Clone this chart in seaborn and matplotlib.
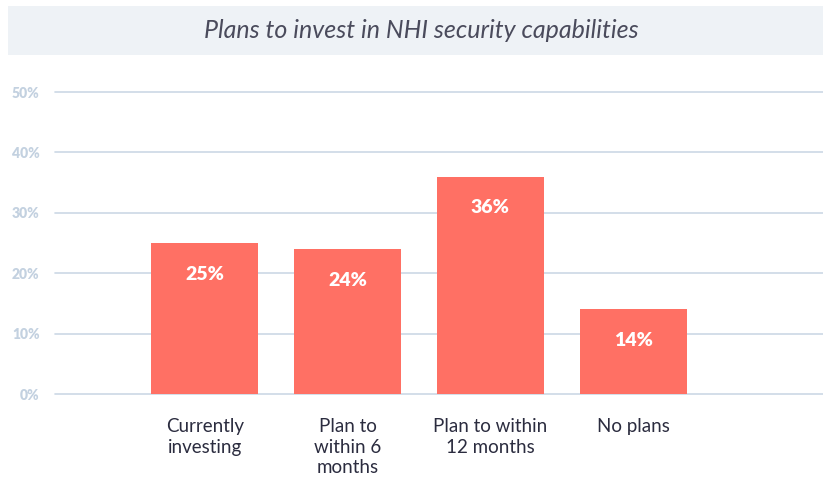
import matplotlib
matplotlib.use("Agg")
import matplotlib.pyplot as plt
import seaborn as sns
import pandas as pd
from matplotlib.patches import Rectangle

categories = ["Currently\ninvesting", "Plan to\nwithin 6\nmonths", "Plan to within\n12 months", "No plans"]
values = [25, 24, 36, 14]
yticks = [0, 10, 20, 30, 40, 50]
title = "Plans to invest in NHI security capabilities"

sns.set_theme(style="white")
plt.rcParams["font.family"] = ["Lato", "DejaVu Sans"]

bar_color = "#FF7064"
grid_color = "#CCD8E5"
tick_color = "#C3D1E0"
label_color = "#2B2C3F"

df = pd.DataFrame({"category": categories, "value": values})

fig = plt.figure(figsize=(8.23, 4.78), dpi=100)
fig.patch.set_facecolor("white")

# Title band
fig.patches.append(Rectangle((8 / 823, 1 - 55 / 478), 1 - 8 / 823, 49 / 478,
                             transform=fig.transFigure, facecolor="#EEF2F6",
                             edgecolor="none", zorder=0))
fig.text(0.512, 1 - 31 / 478, title, ha="center", va="center",
         fontsize=18, style="italic", color="#4A4B5C")

ax = fig.add_axes([55 / 823, 1 - 394 / 478, 1 - 55 / 823, 302 / 478])
sns.barplot(data=df, x="category", y="value", color=bar_color, width=0.75,
            saturation=1, linewidth=0, ax=ax, zorder=2)

ax.set_xlim(-1.05, 4.33)
ax.set_ylim(0, 50)
ax.set_yticks(yticks)
ax.set_yticklabels([f"{t}%" for t in yticks], color=tick_color,
                   fontsize=10, fontweight="heavy")
ax.tick_params(axis="y", length=0, pad=11)
ax.tick_params(axis="x", length=0, pad=17)
for t in yticks:
    ax.axhline(t, color=grid_color, lw=1.2, zorder=1, clip_on=False)
ax.set_xticks(range(len(categories)))
ax.set_xticklabels(categories, fontsize=13.5, color=label_color, linespacing=1.28,
                   va="top")
ax.set_xlabel("")
ax.set_ylabel("")
for s in ax.spines.values():
    s.set_visible(False)

for bar, v in zip(ax.patches, values):
    ax.annotate(f"{v}%", (bar.get_x() + bar.get_width() / 2, v),
                xytext=(0, -31), textcoords="offset pixels",
                ha="center", va="center", color="white", fontsize=14,
                fontweight="heavy", zorder=3)

fig.savefig("out.png", dpi=100, facecolor="white")
